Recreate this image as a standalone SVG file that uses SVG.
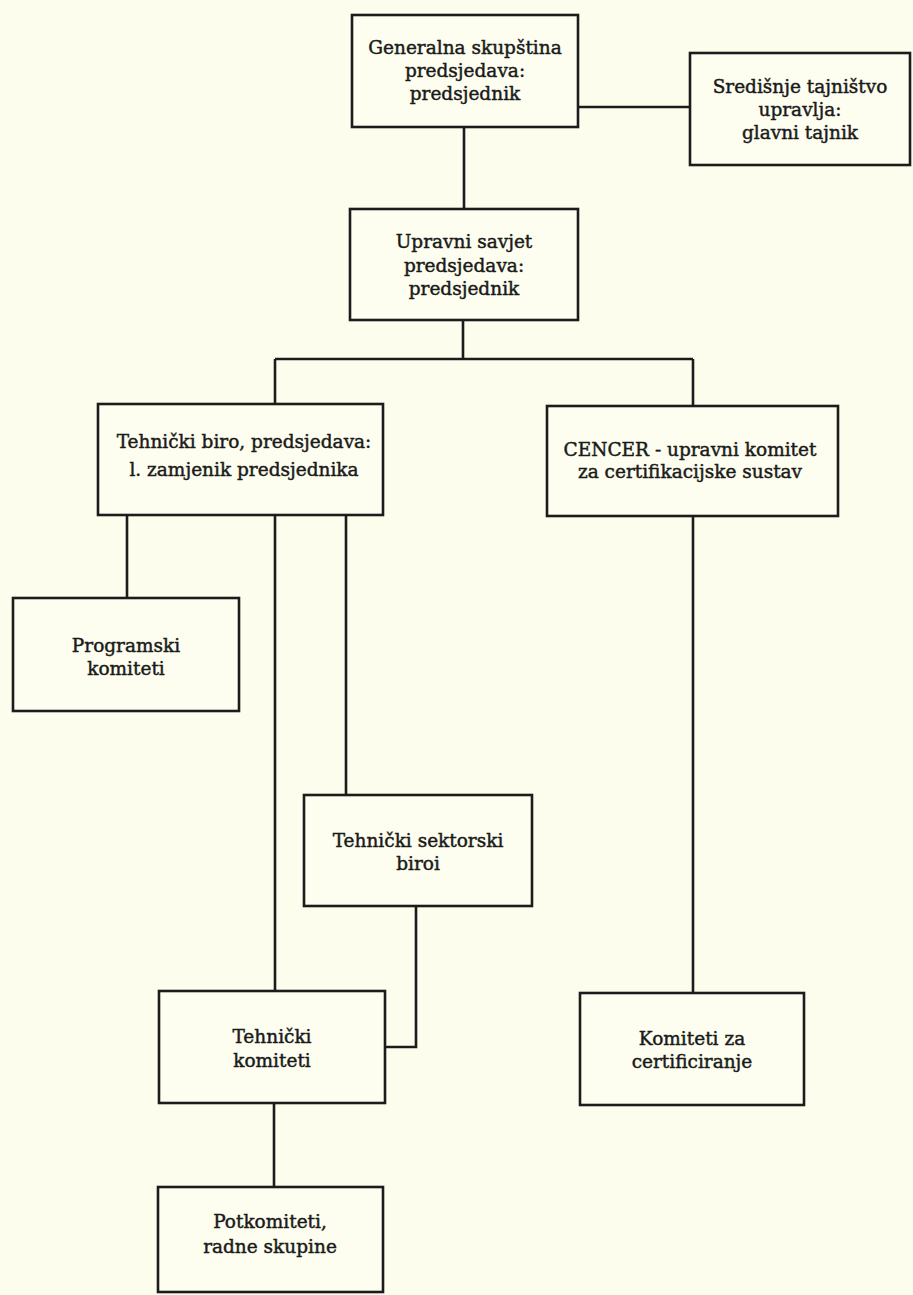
<svg xmlns="http://www.w3.org/2000/svg" width="913" height="1295" viewBox="0 0 913 1295">
<style>
.bg{fill:#fcfdec}
.box{fill:#fdfeef;stroke:#1c1c1c;stroke-width:2.6}
.ln{fill:none;stroke:#1c1c1c;stroke-width:2.6}
text{font-family:"DejaVu Serif","Liberation Serif",serif;font-size:18.5px;fill:#1a1a1a;stroke:#1a1a1a;stroke-width:0.45;text-anchor:middle}
</style>
<rect class="bg" x="0" y="0" width="913" height="1295"/>
<g id="connectors">
<path class="ln" d="M578,107 H690"/>
<path class="ln" d="M464,127 V209"/>
<path class="ln" d="M463,320 V359"/>
<path class="ln" d="M275,359 H693"/>
<path class="ln" d="M275,359 V404"/>
<path class="ln" d="M693,359 V406"/>
<path class="ln" d="M127,515 V598"/>
<path class="ln" d="M275,515 V991"/>
<path class="ln" d="M346,515 V795"/>
<path class="ln" d="M416,906 V1047 H385"/>
<path class="ln" d="M693,516 V993"/>
<path class="ln" d="M274,1103 V1187"/>
</g>
<g id="generalna">
<rect class="box" x="352" y="15" width="226" height="112"/>
<text x="465" y="54">Generalna skupština</text>
<text x="465" y="77">predsjedava:</text>
<text x="465" y="100">predsjednik</text>
</g>
<g id="sredisnje">
<rect class="box" x="690" y="53" width="220" height="112"/>
<text x="800" y="93">Središnje tajništvo</text>
<text x="800" y="116">upravlja:</text>
<text x="800" y="139">glavni tajnik</text>
</g>
<g id="upravni">
<rect class="box" x="350" y="209" width="228" height="111"/>
<text x="464" y="248">Upravni savjet</text>
<text x="464" y="272">predsjedava:</text>
<text x="464" y="295">predsjednik</text>
</g>
<g id="tehnicki-biro">
<rect class="box" x="98" y="404" width="285" height="111"/>
<text x="244" y="448">Tehnički biro, predsjedava:</text>
<text x="244" y="476">l. zamjenik predsjednika</text>
</g>
<g id="cencer">
<rect class="box" x="547" y="406" width="291" height="110"/>
<text x="690" y="456">CENCER - upravni komitet</text>
<text x="690" y="478">za certifikacijske sustav</text>
</g>
<g id="programski">
<rect class="box" x="13" y="598" width="226" height="113"/>
<text x="126" y="652">Programski</text>
<text x="126" y="675">komiteti</text>
</g>
<g id="sektorski">
<rect class="box" x="304" y="795" width="228" height="111"/>
<text x="418" y="847">Tehnički sektorski</text>
<text x="418" y="870">biroi</text>
</g>
<g id="tehnicki-komiteti">
<rect class="box" x="159" y="991" width="226" height="112"/>
<text x="272" y="1043">Tehnički</text>
<text x="272" y="1067">komiteti</text>
</g>
<g id="komiteti-cert">
<rect class="box" x="580" y="993" width="224" height="112"/>
<text x="692" y="1045">Komiteti za</text>
<text x="692" y="1068">certificiranje</text>
</g>
<g id="potkomiteti">
<rect class="box" x="158" y="1187" width="225" height="105"/>
<text x="270" y="1228">Potkomiteti,</text>
<text x="270" y="1253">radne skupine</text>
</g>
</svg>
